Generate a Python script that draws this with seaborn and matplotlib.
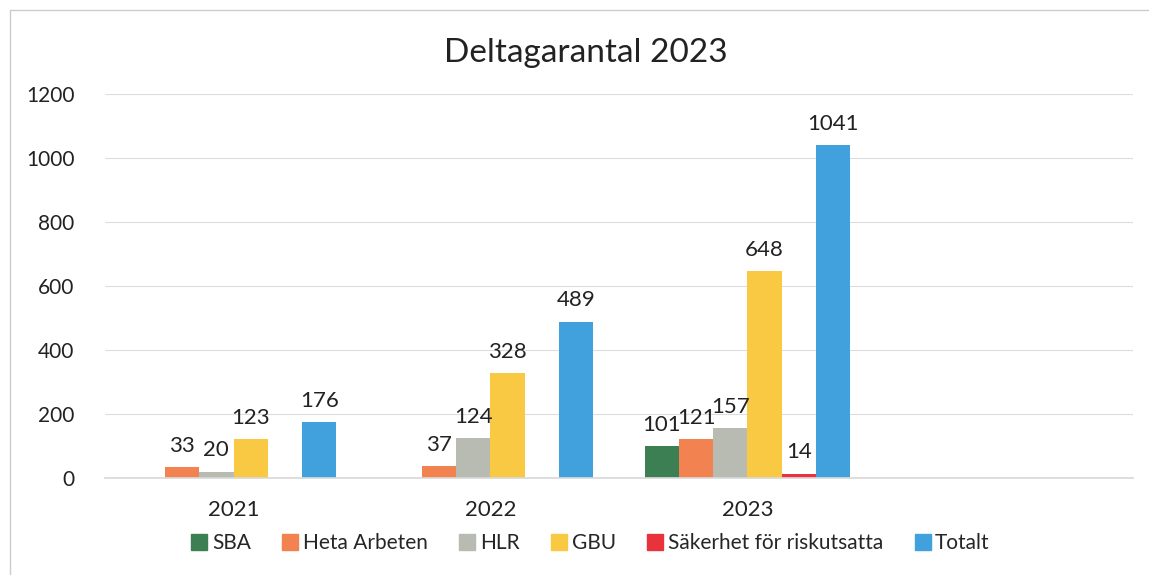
import numpy as np
import pandas as pd
import matplotlib
matplotlib.use("Agg")
import matplotlib.pyplot as plt
from matplotlib.lines import Line2D
import seaborn as sns

years = ["2021", "2022", "2023"]
series = ["SBA", "Heta Arbeten", "HLR", "GBU", "Säkerhet för riskutsatta", "Totalt"]
sba = [np.nan, np.nan, 101]
heta = [33, 37, 121]
hlr = [20, 124, 157]
gbu = [123, 328, 648]
sakerhet = [np.nan, np.nan, 14]
totalt = [176, 489, 1041]
colors = ["#3b7f52", "#f2824f", "#b7bbb1", "#f9c943", "#e8333c", "#41a1dd"]

rows = []
for name, vals in zip(series, [sba, heta, hlr, gbu, sakerhet, totalt]):
    for y, v in zip(years, vals):
        rows.append({"År": y, "Kurs": name, "Antal": v})
df = pd.DataFrame(rows)

sns.set_theme(style="white")
plt.rcParams["font.family"] = ["Lato", "DejaVu Sans"]

fig = plt.figure(figsize=(11.49, 5.75), dpi=100)
ax = fig.add_axes([0.0914, 0.1687, 0.8946, 0.6678])

sns.barplot(data=df, x="År", y="Antal", hue="Kurs", hue_order=series,
            palette=colors, width=0.8, saturation=1, linewidth=0, ax=ax, legend=True)

for cont in ax.containers:
    labels = ["" if np.isnan(b.get_height()) else f"{b.get_height():.0f}" for b in cont]
    ax.bar_label(cont, labels=labels, padding=8, fontsize=16, color="#222222")

ax.set_xlim(-0.5, 3.5)
ax.set_ylim(0, 1200)
ax.set_yticks(range(0, 1201, 200))
ax.yaxis.grid(True, color="#dddddd", linewidth=0.8)
ax.set_axisbelow(True)
for s in ["top", "right", "left"]:
    ax.spines[s].set_visible(False)
ax.spines["bottom"].set_color("#d9d9d9")
ax.set_xlabel("")
ax.set_ylabel("")
ax.tick_params(axis="both", labelsize=16, colors="#222222", length=0)
ax.tick_params(axis="y", labelsize=15, pad=22)
ax.tick_params(axis="x", pad=16)

fig.text(0.51, 0.907, "Deltagarantal 2023", fontsize=24, color="#222222",
         ha="center", va="center")

ax.legend_.remove()
handles = [Line2D([], [], marker="s", linestyle="", markersize=11,
                  markerfacecolor=c, markeredgecolor=c) for c in colors]
fig.legend(handles, series, loc="center", bbox_to_anchor=(0.513, 0.056),
           ncol=6, frameon=False, fontsize=15, handletextpad=0.1,
           columnspacing=1.4, handlelength=1.0)

fig.add_artist(Line2D([0.009, 0.009], [0.0, 0.983], color="#cccccc", linewidth=1))
fig.add_artist(Line2D([0.009, 1.0], [0.983, 0.983], color="#cccccc", linewidth=1))

fig.savefig("out.png", dpi=100)
